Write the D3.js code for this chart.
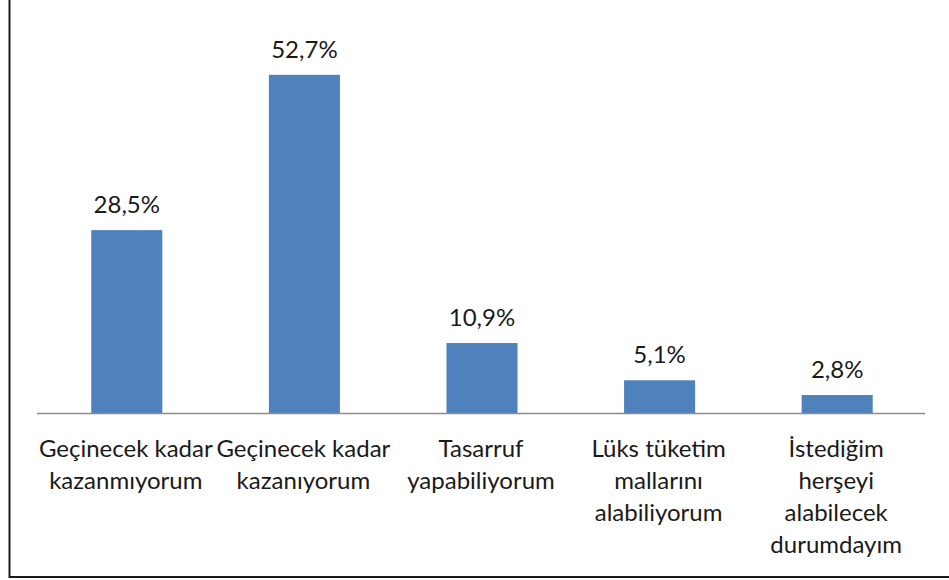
<!DOCTYPE html>
<html>
<head>
<meta charset="utf-8">
<script src="https://cdn.jsdelivr.net/npm/d3@7"></script>
<style>
  body { margin: 0; background: #fff; }
  text { font-family: Lato, "Open Sans", sans-serif; fill: #1a1a1a; }
</style>
</head>
<body>
<svg class="chart"></svg>
<script>
const width = 949;
const height = 580;

// chart data
const categories = [
    ['Geçinecek kadar', 'kazanmıyorum'],
    ['Geçinecek kadar', 'kazanıyorum'],
    ['Tasarruf', 'yapabiliyorum'],
    ['Lüks tüketim', 'mallarını', 'alabiliyorum'],
    ['İstediğim', 'herşeyi', 'alabilecek', 'durumdayım']
];
const values = [28.5, 52.7, 10.9, 5.1, 2.8];
const valueLabels = ['28,5%', '52,7%', '10,9%', '5,1%', '2,8%'];

const plot = { left: 37, right: 925, top: 28, bottom: 413 };

const chart = d3.select('.chart')
    .attr('width', width)
    .attr('height', height);

const xScale = d3.scaleBand()
    .domain(d3.range(values.length))
    .range([plot.left, plot.right])
    .paddingInner(0.6)
    .paddingOuter(0.3);

const yScale = d3.scaleLinear()
    .domain([0, 60])
    .range([plot.bottom, plot.top]);

// frame (only left and bottom edges are visible)
chart.append('path')
    .attr('d', `M9.5,0 V577 H${width}`)
    .attr('fill', 'none')
    .attr('stroke', '#1a1a1a')
    .attr('stroke-width', 2);

chart.selectAll('rect.bar')
    .data(values)
    .enter()
    .append('rect')
    .attr('class', 'bar')
    .attr('fill', '#4f81bd')
    .attr('x', (d, i) => xScale(i) + 1)
    .attr('width', xScale.bandwidth())
    .attr('y', d => yScale(d))
    .attr('height', d => yScale(0) - yScale(d));

// baseline
chart.append('line')
    .attr('x1', plot.left)
    .attr('x2', plot.right)
    .attr('y1', yScale(0) + 0.5)
    .attr('y2', yScale(0) + 0.5)
    .attr('stroke', '#8c8c8c')
    .attr('stroke-width', 1.5);

// value labels
chart.selectAll('text.value')
    .data(values)
    .enter()
    .append('text')
    .attr('class', 'value')
    .attr('x', (d, i) => xScale(i) + xScale.bandwidth() / 2 + 1)
    .attr('y', d => yScale(d) - 17)
    .attr('text-anchor', 'middle')
    .style('font-size', '24px')
    .text((d, i) => valueLabels[i]);

// category labels
const cat = chart.selectAll('text.cat')
    .data(categories)
    .enter()
    .append('text')
    .attr('class', 'cat')
    .attr('text-anchor', 'middle')
    .style('font-size', '24px');

cat.selectAll('tspan')
    .data((d, i) => d.map(line => ({ line, i })))
    .enter()
    .append('tspan')
    .attr('x', d => xScale(d.i) + xScale.bandwidth() / 2)
    .attr('y', (d, j) => 457 + j * 32)
    .text(d => d.line);
</script>
</body>
</html>
